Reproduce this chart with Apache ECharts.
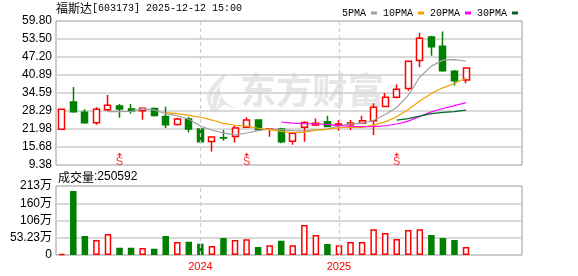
<!DOCTYPE html>
<html><head><meta charset="utf-8">
<script src="https://cdn.jsdelivr.net/npm/echarts@6/dist/echarts.min.js"></script>
<style>html,body{margin:0;padding:0;background:#fff}#c{width:578px;height:276px}</style>
</head><body><div id="c"></div>
<script>
// ---- data ----
const months = ['2023-01','2023-02','2023-03','2023-04','2023-05','2023-06','2023-07','2023-08','2023-09','2023-10','2023-11','2023-12',
  '2024-01','2024-02','2024-03','2024-04','2024-05','2024-06','2024-07','2024-08','2024-09','2024-10','2024-11','2024-12',
  '2025-01','2025-02','2025-03','2025-04','2025-05','2025-06','2025-07','2025-08','2025-09','2025-10','2025-11','2025-12',
  '2026-01','2026-02','2026-03','2026-04'];
const opens  = [21.88,31.44,27.83,24.20,28.75,30.04,28.99,28.40,29.20,26.40,23.60,25.50,22.00,17.60,18.90,19.40,22.60,25.10,22.00,22.00,17.70,22.60,23.40,24.50,23.50,23.50,24.00,24.90,29.90,33.10,36.20,46.00,54.20,51.00,42.20,39.10];
const closes = [28.88,28.05,24.20,28.88,30.29,28.99,28.29,29.23,26.70,23.50,25.50,22.00,17.50,19.20,18.80,22.30,25.10,21.80,22.05,17.55,20.50,24.30,24.00,22.90,23.70,24.10,24.90,29.60,33.10,35.90,45.70,53.80,50.80,42.40,38.90,43.35];
const lows   = [21.80,27.70,23.85,23.50,28.18,25.95,27.35,25.25,26.40,22.30,23.20,20.80,17.40,14.10,17.90,17.30,22.40,21.50,19.30,17.00,16.50,17.50,23.00,22.60,21.40,21.60,23.90,19.90,29.60,32.70,35.40,43.60,47.60,42.00,37.20,38.00];
const highs  = [28.90,36.70,28.90,29.60,33.90,30.70,30.70,29.50,29.50,29.80,25.90,26.20,22.10,19.30,21.60,23.10,26.10,25.20,22.30,22.45,20.60,24.70,25.70,26.60,25.10,25.10,26.60,31.00,34.60,37.60,45.90,55.60,54.60,56.10,42.60,43.40];
const volumes = [3,197.5,58.6,46.3,64.8,22.6,22.6,21.6,19.5,58.6,40.1,41.2,35.0,27.8,52.5,46.3,48.4,24.7,29.8,44.2,29.8,92.6,61.7,34.0,29.8,40.1,40.1,79.2,67.9,49.4,77.2,79.2,61.7,52.5,46.3,25.06]; // 万
const ma5  = ['-','-','-','-',28.06,28.08,28.13,29.14,28.70,27.34,26.64,25.39,23.04,21.54,20.60,19.96,20.58,21.44,22.01,21.76,21.40,21.24,21.68,21.85,23.08,23.80,23.92,25.04,27.08,29.52,33.84,40.20,44.00,46.10,46.30,45.80];
const ma10 = ['-','-','-','-','-','-','-','-','-',27.70,27.36,26.76,26.09,25.12,23.97,23.30,22.98,22.24,21.78,21.18,20.68,20.91,21.56,21.93,22.42,22.60,22.58,23.36,24.47,26.30,28.82,31.77,34.45,36.40,37.92,39.85];
const ma20 = ['-','-','-','-','-','-','-','-','-','-','-','-','-','-','-','-','-','-','-',24.44,24.02,23.83,23.82,23.53,23.20,22.95,22.78,22.80,23.12,23.74,24.75,26.34,28.00,29.17,30.17,31.22];
const ma30 = ['-','-','-','-','-','-','-','-','-','-','-','-','-','-','-','-','-','-','-','-','-','-','-','-','-','-','-','-','-',25.06,25.62,26.48,27.37,27.82,28.10,28.58];
const priceTicks = ['9.38','15.68','21.98','28.29','34.59','40.89','47.20','53.50','59.80'];
const volTicks = ['0','53.23万','106万','160万','213万'];
const priceMin = 9.38, priceMax = 59.80, volMax = 212.92;
const dividendMonths = ['2023-06','2024-05','2025-06'];
const yearMarks = ['2024-01','2025-01'];
const stockName = '福斯达', stockCode = '603173', stamp = '2025-12-12 15:00';
const lastVolume = 250592;

// ---- chart ----
const up = '#ff0000', down = '#008000';
const candleData = opens.map((o,i)=>[o, closes[i], lows[i], highs[i]]);
const volData = volumes.map((v,i)=>({value:v, itemStyle: closes[i]>=opens[i]
  ? {color:'#fff', borderColor:up, borderWidth:1.5}
  : {color:down, borderColor:down, borderWidth:1.5}}));
const sMarkY = priceMin + 0.07*(priceMax-priceMin);
const axisFont = "'Liberation Sans','Noto Sans CJK SC'";
const frameY = (gi, ticks) => ({gridIndex:gi, type:'value', min:0, max:ticks.length-1, interval:1,
  axisLine:{show:false}, axisTick:{show:false},
  axisLabel:{formatter:v=>ticks[v], color:'#000', fontFamily:axisFont, fontSize:12, margin:4},
  splitLine:{show:true, showMinLine:false, showMaxLine:false, lineStyle:{color:'#cccccc', width:1.5}}});
const vline = {silent:true, symbol:'none', label:{show:false}, lineStyle:{color:'#cccccc', type:[4,3], width:1.2}, data: yearMarks.map(m=>({xAxis:m}))};
const maLine = (name, data, color) => ({name, type:'line', xAxisIndex:1, yAxisIndex:1, data, symbol:'none', z:5,
  lineStyle:{color, width:1.2}, itemStyle:{color}});

const chart = echarts.init(document.getElementById('c'));
chart.setOption({
  animation:false,
  title:[
    {text:'{a|'+stockName+'}{b|['+stockCode+'] '+stamp+'}', left:56, top:2, padding:0,
      textStyle:{rich:{a:{fontFamily:'Noto Sans CJK SC', fontSize:12, fontWeight:'normal', color:'#000'}, b:{fontFamily:'Liberation Mono', fontSize:10, fontWeight:'normal', color:'#000'}}}},
    {text:'{a|成交量}{b|:'+lastVolume+'}', left:58, top:171, padding:0,
      textStyle:{rich:{a:{fontFamily:'Noto Sans CJK SC', fontSize:12, fontWeight:'normal', color:'#000'}, b:{fontFamily:'Liberation Sans', fontSize:12, fontWeight:'normal', color:'#000'}}}}
  ],
  legend:{data:['5PMA','10PMA','20PMA','30PMA'], left:337, top:3, align:'right', icon:'rect', itemWidth:6, itemHeight:3, itemGap:6,
    textStyle:{fontFamily:'Liberation Mono', fontSize:10, color:'#000'}},
  graphic:[
    {type:'text', left:240, top:72, z:-10, silent:true, style:{text:'东方财富', font:'bold 36px "Noto Sans CJK SC"', fill:'#e6e6e6'}},
    {type:'polygon', z:-10, silent:true, shape:{points:[[214,112],[207,98],[212,86],[226,74],[220,88],[224,100],[235,109],[224,105]], smooth:0.4}, style:{fill:'#e6e6e6'}},
    {type:'polyline', z:-9, silent:true, shape:{points:[[212,104],[214,93],[226,78]], smooth:0.5}, style:{stroke:'#fff', lineWidth:1.5, fill:null}},
    {type:'polyline', z:-9, silent:true, shape:{points:[[217,108],[220,97],[229,85]], smooth:0.5}, style:{stroke:'#fff', lineWidth:1.5, fill:null}}
  ],
  grid:[
    {left:56, top:21, width:466, height:144, show:true, borderColor:'#999', borderWidth:1},
    {left:56, top:21, width:462, height:144},
    {left:56, top:186, width:466, height:69, show:true, borderColor:'#999', borderWidth:1},
    {left:56, top:186, width:462, height:69}
  ],
  xAxis:[
    {gridIndex:0, type:'value', min:0, max:1, show:false},
    {gridIndex:1, type:'category', data:months, axisLine:{show:false}, axisTick:{show:false}, axisLabel:{show:false}, splitLine:{show:false}},
    {gridIndex:2, type:'value', min:0, max:1, show:false},
    {gridIndex:3, type:'category', data:months, axisLine:{show:false}, axisTick:{show:false}, splitLine:{show:false},
      axisLabel:{interval:(i,v)=>yearMarks.includes(v), formatter:v=>v.slice(0,4), color:'#ff0000', fontFamily:'Liberation Sans', fontSize:11, margin:6}}
  ],
  yAxis:[
    frameY(0, priceTicks),
    {gridIndex:1, type:'value', min:priceMin, max:priceMax, show:false},
    frameY(2, volTicks),
    {gridIndex:3, type:'value', min:0, max:volMax, show:false}
  ],
  series:[
    {type:'candlestick', xAxisIndex:1, yAxisIndex:1, data:candleData, barWidth:6.5,
      itemStyle:{color:'#fff', color0:down, borderColor:up, borderColor0:down, borderWidth:1.5}, markLine:vline},
    maLine('5PMA', ma5, '#a0a0a0'),
    maLine('10PMA', ma10, '#f4a000'),
    maLine('20PMA', ma20, '#ff00ff'),
    maLine('30PMA', ma30, '#00642d'),
    {type:'scatter', xAxisIndex:1, yAxisIndex:1, data:dividendMonths.map(m=>[m, sMarkY]), z:6,
      symbol:'path://M5,0 L10,5 L6,5 L6,8 L4,8 L4,5 L0,5 Z', symbolSize:[5,5], itemStyle:{color:up},
      label:{show:true, formatter:'S', position:'bottom', distance:-1, color:up, fontSize:11, fontFamily:'Liberation Sans'}},
    {type:'bar', xAxisIndex:3, yAxisIndex:3, data:volData, barWidth:6.5, markLine:vline}
  ]
});
</script></body></html>
